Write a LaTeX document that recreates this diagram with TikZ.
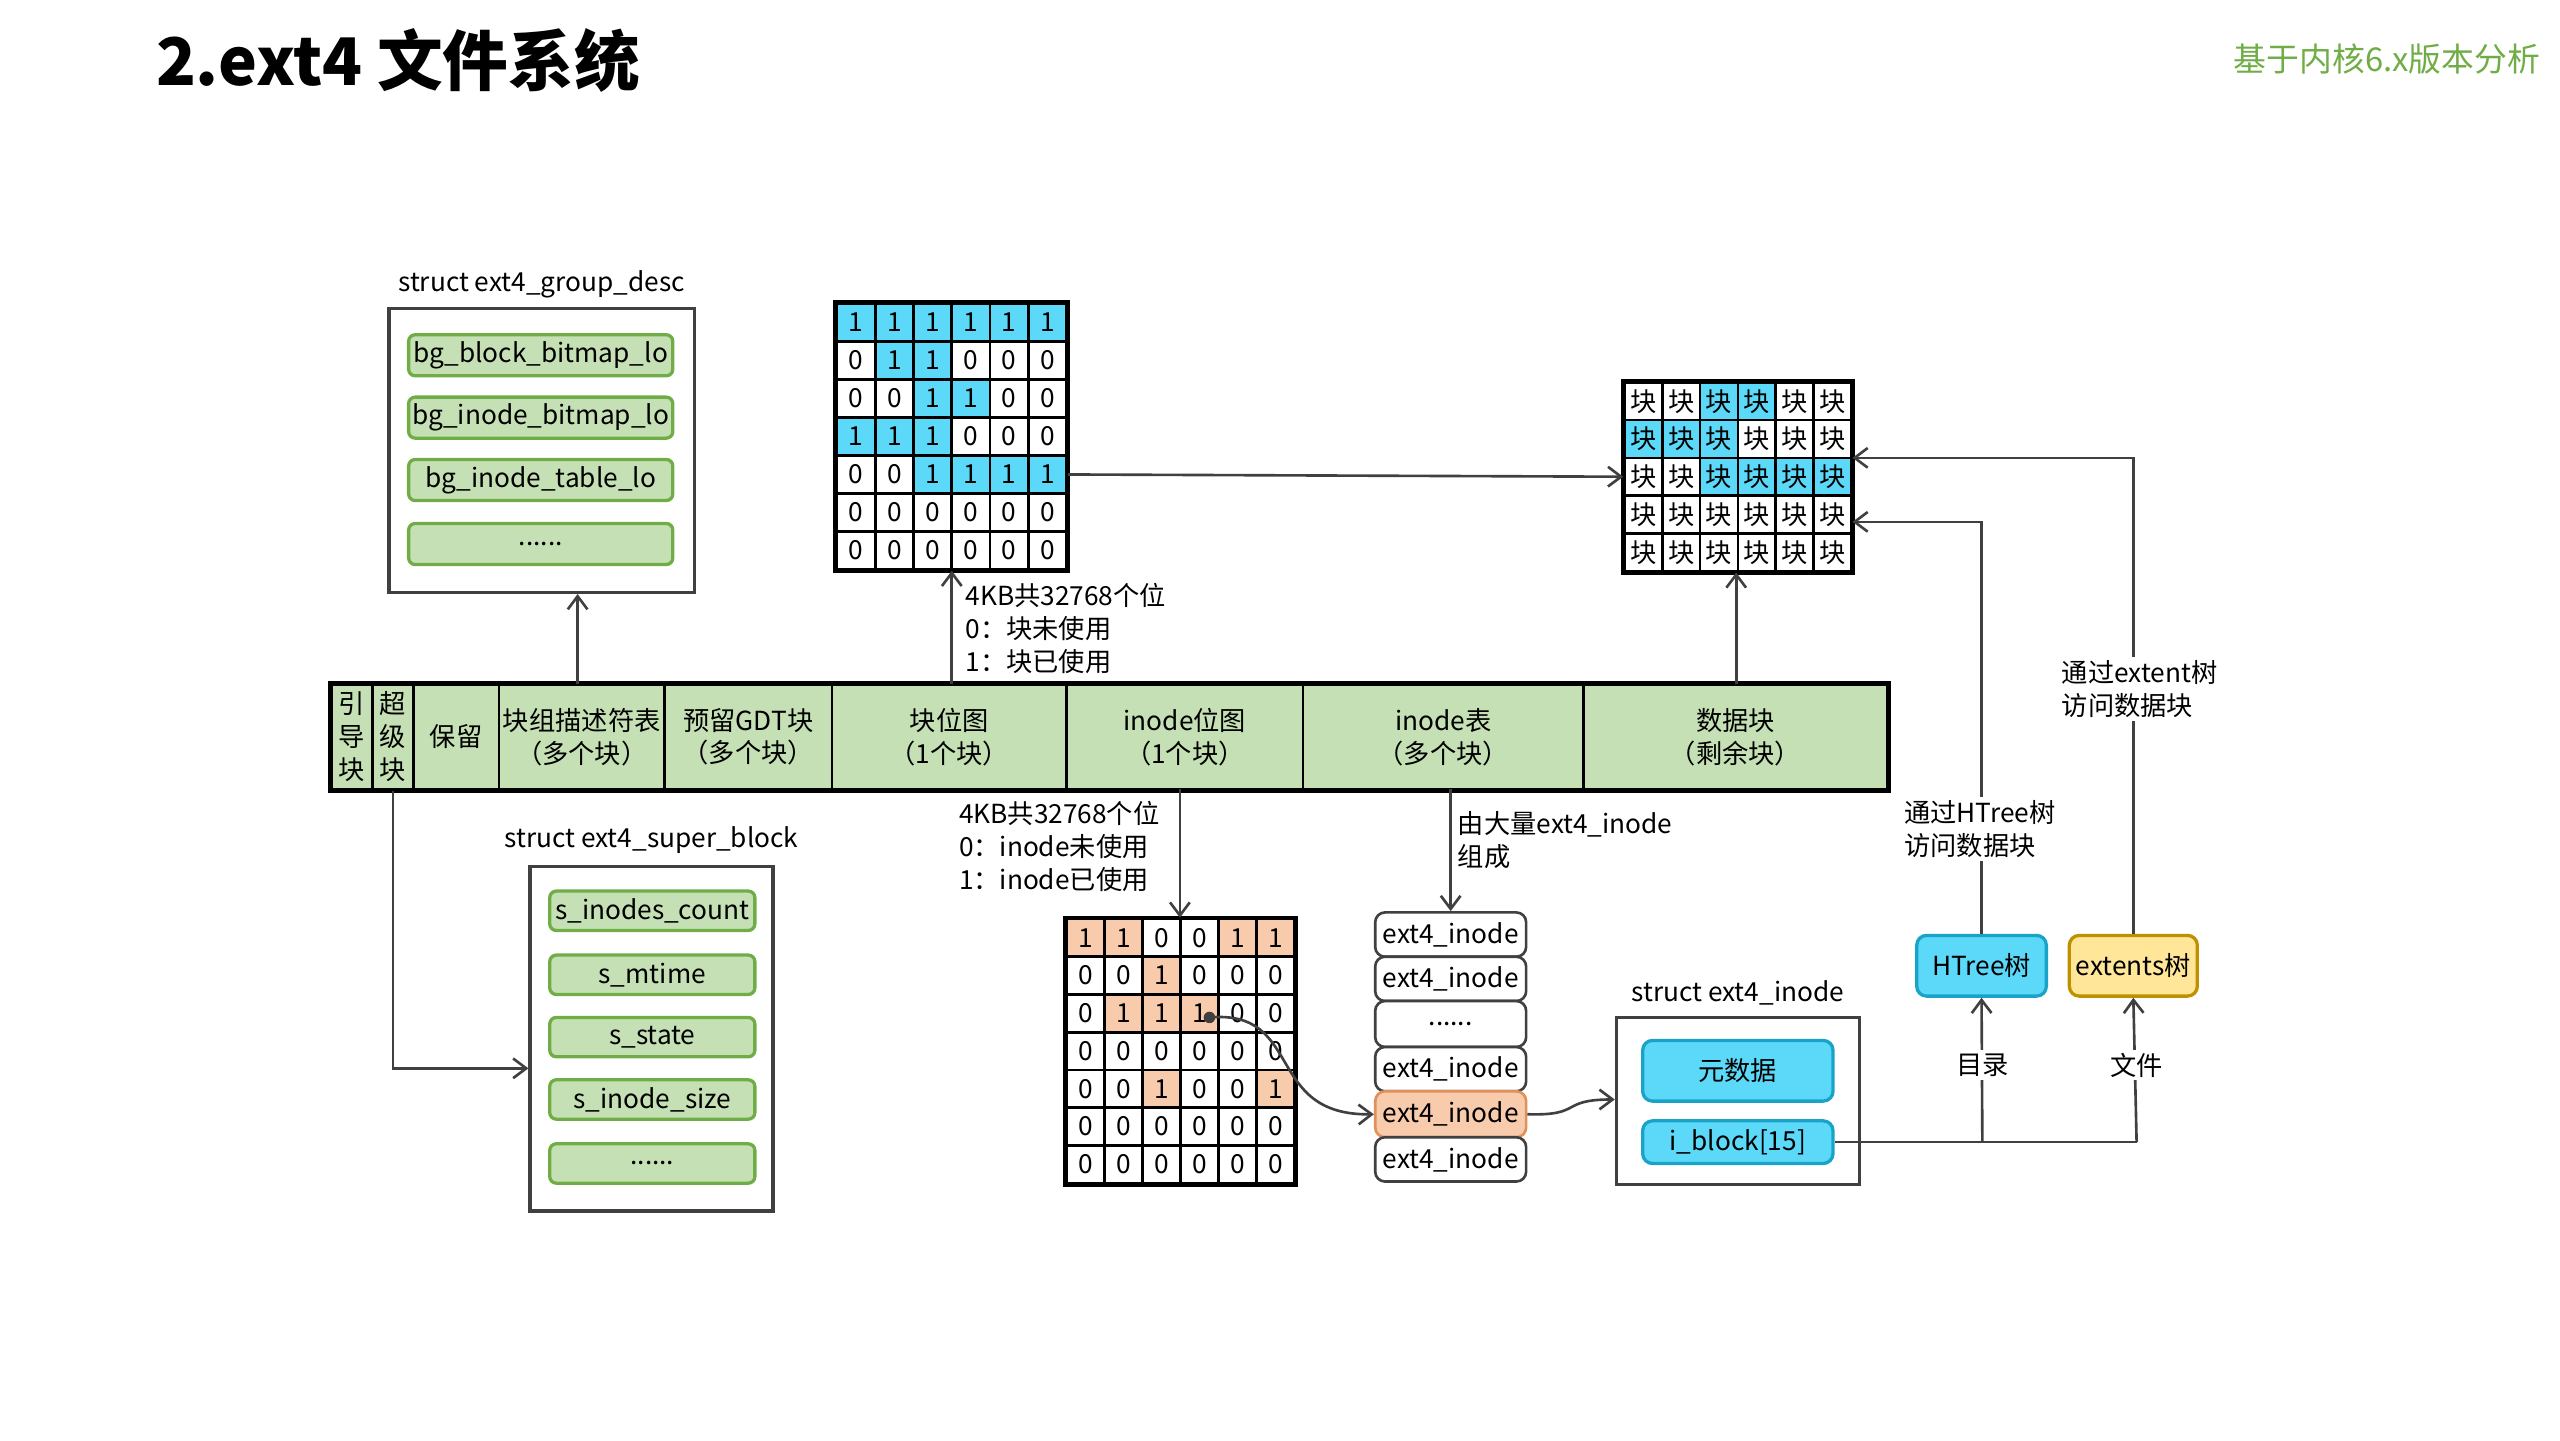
\documentclass[tikz,border=0pt]{standalone}
\usepackage{fontspec}
\setmainfont{Noto Sans CJK SC}
\usetikzlibrary{arrows.meta}
\definecolor{gfill}{HTML}{C5E0B4}
\definecolor{gline}{HTML}{70AD47}
\definecolor{bblue}{HTML}{5CD8F8}
\definecolor{bline}{HTML}{1AA3C8}
\definecolor{ofill}{HTML}{F8CBAD}
\definecolor{oline}{HTML}{E0905A}
\definecolor{yfill}{HTML}{FFE699}
\definecolor{yline}{HTML}{BF9000}
\definecolor{ln}{HTML}{404040}
\newcommand\bx[7]{\pgfmathsetmacro\bw{(#4-#2)*0.5}\pgfmathsetmacro\bh{(#5-#3)*0.5}%
 \node[#6,minimum width=\bw pt,minimum height=\bh pt,inner sep=0pt] (#1) at ({(#2+#4)/2},{(#3+#5)/2}) {#7};}
\begin{document}
\begin{tikzpicture}[x=0.5pt,y=-0.5pt,font=\fontsize{8}{10}\selectfont,
 conn/.style={draw=ln,line width=0.8pt},
 arr/.style={conn,-{Straight Barb[length=4pt,width=6pt]}},
 gbox/.style={draw=gline,fill=gfill,rounded corners=2pt,line width=1pt},
 frame/.style={draw=ln,line width=1pt},
 bbox/.style={draw=bline,fill=bblue,rounded corners=3pt,line width=1pt},
 ybox/.style={draw=yline,fill=yfill,rounded corners=3pt,line width=1pt},
 ibox/.style={draw=ln,fill=white,rounded corners=3pt,line width=0.8pt},
 cell/.style={draw=black,line width=0.8pt,inner sep=0pt},
 bar/.style={draw=black,fill=gfill,line width=0.8pt,align=center},
 lab/.style={anchor=west,align=left,inner sep=1pt,font=\fontsize{8}{10}\selectfont},
 wlab/.style={lab,fill=white}]
\useasboundingbox (0,0) rectangle (1560,878);
\node[anchor=west,font=\fontsize{20}{22}\selectfont\bfseries] (title) at (88,37) {2.ext4 文件系统};
\node[anchor=east,text=gline,font=\fontsize{10}{12}\selectfont] (ver) at (1555,36) {基于内核6.x版本分析};

% group desc
\node (gdl) at (330,173) {struct ext4\_group\_desc};
\bx{gd}{237}{188}{423}{361}{frame}{}
\bx{g1}{249}{204}{410}{229}{gbox}{bg\_block\_bitmap\_lo}
\bx{g2}{249}{242}{410}{267}{gbox}{bg\_inode\_bitmap\_lo}
\bx{g3}{249}{280}{410}{305}{gbox}{bg\_inode\_table\_lo}
\bx{g4}{249}{319}{410}{344}{gbox}{......}

% block bitmap grid
\foreach \row [count=\r from 0] in {{1,1,1,1,1,1},{0,1,1,0,0,0},{0,0,1,1,0,0},{1,1,1,0,0,0},{0,0,1,1,1,1},{0,0,0,0,0,0},{0,0,0,0,0,0}}{
 \foreach \v [count=\c from 0] in \row {
  \ifnum\v=1 \def\fc{bblue}\else\def\fc{white}\fi
  \node[cell,fill=\fc,minimum width=11.67pt,minimum height=11.57pt] (b-\r-\c) at ({510+23.33*(\c+0.5)},{185+23.14*(\r+0.5)}) {\v};}}
\draw[black,line width=1.3pt] (b-0-0.north west) rectangle (b-6-5.south east);

% data grid
\foreach \row [count=\r from 0] in {{0,0,1,1,0,0},{1,1,1,0,0,0},{0,0,1,1,1,1},{0,0,0,0,0,0},{0,0,0,0,0,0}}{
 \foreach \v [count=\c from 0] in \row {
  \ifnum\v=1 \def\fc{bblue}\else\def\fc{white}\fi
  \node[cell,fill=\fc,minimum width=11.5pt,minimum height=11.5pt] (d-\r-\c) at ({990+23*(\c+0.5)},{233+23*(\r+0.5)}) {块};}}
\draw[black,line width=1.3pt] (d-0-0.north west) rectangle (d-4-5.south east);
\draw[arr] (b-4-5.east) -- (d-2-0.west);

% main bar
\bx{m1}{202}{417}{227}{481}{bar}{引\\导\\块}
\bx{m2}{227}{417}{252}{481}{bar}{超\\级\\块}
\bx{m3}{252}{417}{304}{481}{bar}{保留}
\bx{m4}{304}{417}{405}{481}{bar}{块组描述符表\\（多个块）}
\bx{m5}{405}{417}{507}{481}{bar}{预留GDT块\\（多个块）}
\bx{m6}{507}{417}{650}{481}{bar}{块位图\\（1个块）}
\bx{m7}{650}{417}{794}{481}{bar}{inode位图\\（1个块）}
\bx{m8}{794}{417}{965}{481}{bar}{inode表\\（多个块）}
\bx{m9}{965}{417}{1150}{481}{bar}{数据块\\（剩余块）}
\draw[black,line width=1.3pt] (m1.north west) rectangle (m9.south east);

\coordinate (a1) at (352,417);
\coordinate (a2) at (580,417);
\coordinate (a3) at (1058,417);
\draw[arr] (a1) -- (a1 |- gd.south);
\draw[arr] (a2) -- (a2 |- b-6-2.south);
\draw[arr] (a3) -- (a3 |- d-4-2.south);
\node[lab] (t1) at (586,383) {4KB共32768个位\\0：块未使用\\1：块已使用};

% super block
\node (sbl) at (397,512) {struct ext4\_super\_block};
\bx{sb}{323}{528}{471}{738}{frame}{}
\bx{s1}{335}{543}{460}{567}{gbox}{s\_inodes\_count}
\bx{s2}{335}{582}{460}{606}{gbox}{s\_mtime}
\bx{s3}{335}{620}{460}{644}{gbox}{s\_state}
\bx{s4}{335}{658}{460}{682}{gbox}{s\_inode\_size}
\bx{s5}{335}{697}{460}{721}{gbox}{......}
\draw[arr] (m2.south) |- (sb.west |- 0,651);

% inode bitmap grid
\foreach \row [count=\r from 0] in {{1,1,0,0,1,1},{0,0,1,0,0,0},{0,1,1,1,0,0},{0,0,0,0,0,0},{0,0,1,0,0,1},{0,0,0,0,0,0},{0,0,0,0,0,0}}{
 \foreach \v [count=\c from 0] in \row {
  \ifnum\v=1 \def\fc{ofill}\else\def\fc{white}\fi
  \node[cell,fill=\fc,minimum width=11.58pt,minimum height=11.5pt] (i-\r-\c) at ({650+23.17*(\c+0.5)},{560+23*(\r+0.5)}) {\v};}}
\draw[black,line width=1.3pt] (i-0-0.north west) rectangle (i-6-5.south east);
\coordinate (a4) at (719,481);
\draw[arr] (a4) -- (a4 |- i-0-0.north);
\node[lab] (t2) at (582,516) {4KB共32768个位\\0：inode未使用\\1：inode已使用};

% inode list
\bx{l1}{838}{556}{930}{583}{ibox}{ext4\_inode}
\bx{l2}{838}{583}{930}{610}{ibox}{ext4\_inode}
\bx{l3}{838}{610}{930}{638}{ibox}{......}
\bx{l4}{838}{638}{930}{665}{ibox}{ext4\_inode}
\bx{l5}{838}{665}{930}{693}{ibox,fill=ofill,draw=oline}{ext4\_inode}
\bx{l6}{838}{693}{930}{720}{ibox}{ext4\_inode}
\draw[arr] (884,481) -- (l1.north);
\node[lab] (t3) at (886,512) {由大量ext4\_inode\\组成};

\coordinate (dot) at (737,620);
\fill[ln] (dot) circle (3.5);
\draw[arr] (dot) .. controls (795,615) and (770,680) .. (l5.west);

% struct ext4_inode
\node (inl) at (1059,605) {struct ext4\_inode};
\bx{ino}{985}{620}{1133}{722}{frame}{}
\bx{meta}{1001}{634}{1117}{671}{bbox}{元数据}
\bx{iblk}{1001}{683}{1117}{709}{bbox}{i\_block[15]}
\draw[arr] (l5.east) .. controls (965,680) and (950,670) .. (ino.west |- 0,670);

% trees
\bx{ht}{1168}{570}{1247}{607}{bbox}{HTree树}
\bx{ex}{1261}{570}{1339}{607}{ybox}{extents树}
\coordinate (j1) at (1208,696);
\coordinate (j2) at (1302,696);
\draw[conn] (iblk.east) -- (j2);
\draw[arr] (j1) -- (ht.south);
\draw[arr] (j2) -- (ex.south);
\node[fill=white,inner sep=1pt] (dir) at (1208,649) {目录};
\node[fill=white,inner sep=1pt] (fil) at (1302,649) {文件};
\draw[arr] (ht.north) |- (d-3-5.east |- 0,318);
\draw[arr] (ex.north) |- (d-1-5.east |- 0,279);
\node[wlab] (t4) at (1158,505) {通过HTree树\\访问数据块};
\node[wlab] (t5) at (1254,420) {通过extent树\\访问数据块};
\end{tikzpicture}
\end{document}
